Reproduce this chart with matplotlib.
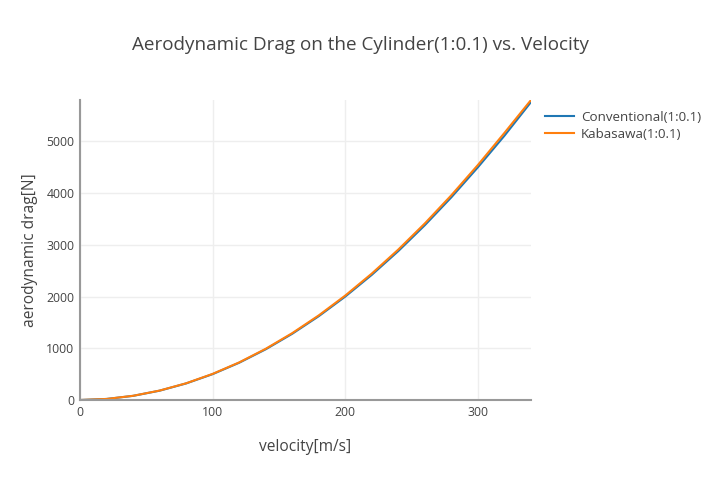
import matplotlib.pyplot as plt

plt.rcParams['font.family'] = ['Open Sans', 'DejaVu Sans']

velocity = [0, 20, 40, 60, 80, 100, 120, 140, 160, 180, 200, 220, 240, 260, 280, 300, 320, 340]
conventional = [0, 20, 80, 180, 320, 500, 720, 980, 1280, 1620, 2000, 2420, 2880, 3380, 3920, 4500, 5110, 5760]
kabasawa = [0, 20, 81, 182, 323, 505, 727, 990, 1293, 1636, 2020, 2445, 2910, 3415, 3960, 4545, 5165, 5800]

fig = plt.figure(figsize=(7.2, 4.8), dpi=100)
ax = fig.add_axes([80 / 720, 80 / 480, 451 / 720, 300 / 480])

ax.plot(velocity, conventional, color='#1f77b4', lw=1.5, label='Conventional(1:0.1)')
ax.plot(velocity, kabasawa, color='#ff7f0e', lw=1.5, label='Kabasawa(1:0.1)')

ax.set_xlim(0, 340)
ax.set_ylim(0, 5800)
ax.set_xticks([0, 100, 200, 300])
ax.set_yticks([0, 1000, 2000, 3000, 4000, 5000])
ax.grid(True, color='#eeeeee', lw=1)
ax.set_axisbelow(True)
for s in ['top', 'right']:
    ax.spines[s].set_visible(False)
for s in ['left', 'bottom']:
    ax.spines[s].set_color('#999999')
    ax.spines[s].set_linewidth(1.5)
ax.tick_params(length=0, labelsize=8.8, labelcolor='#444444', pad=4)

ax.set_xlabel('velocity[m/s]', fontsize=11.2, color='#444444')
ax.set_ylabel('aerodynamic drag[N]', fontsize=11.2, color='#444444')
ax.xaxis.set_label_coords((305 - 80) / 451, -(439 - 400) / 300)
ax.yaxis.set_label_coords(-(80 - 38) / 451, 0.5)
fig.text(360 / 720, 1 - 45 / 480, 'Aerodynamic Drag on the Cylinder(1:0.1) vs. Velocity',
         ha='center', va='center', fontsize=13.6, color='#444444')

ax.legend(loc='upper left', bbox_to_anchor=(545 / 720, 1 - 111 / 480), bbox_transform=fig.transFigure,
          frameon=False, fontsize=9.6, handlelength=2.2, handletextpad=0.5, labelspacing=0.3,
          labelcolor='#444444', borderaxespad=0, borderpad=0)

fig.savefig('out.png', dpi=100)
